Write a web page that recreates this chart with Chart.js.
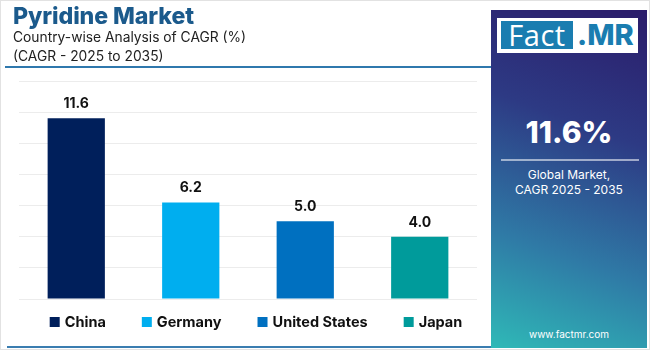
<!DOCTYPE html>
<html><head><meta charset="utf-8">
<script src="https://cdn.jsdelivr.net/npm/chart.js@4.4.1/dist/chart.umd.min.js"></script>
<style>
html,body{margin:0;padding:0;background:#fff;}
#wrap{position:relative;width:650px;height:350px;overflow:hidden;background:#fff;font-family:Inter,"Noto Sans",sans-serif;}
#frame{position:absolute;left:0;top:0;width:648px;height:348px;border:1px solid #e2e2e2;}
#title{position:absolute;left:13px;top:2px;font-size:23.2px;font-weight:800;color:#1b5a8c;letter-spacing:-0.1px;}
#sub1{position:absolute;left:13px;top:29px;font-size:13.8px;color:#222;}
#sub2{position:absolute;left:13px;top:48px;font-size:13.8px;color:#222;}
#rule1{position:absolute;left:5px;top:66px;width:487px;height:2px;background:#2f78ad;}
#rule2{position:absolute;left:7px;top:346px;width:485px;height:2px;background:#3a7db0;}
#chartbox{position:absolute;left:0;top:0;width:490px;height:350px;}
#panel{position:absolute;left:491px;top:10px;width:156px;height:338px;background:linear-gradient(200deg,#2b1c6a 0%,#2d3a84 35%,#2f7aa6 70%,#2fb9b7 100%);}
#logo{position:absolute;left:6px;top:8px;width:141px;height:35px;background:#fff;}
#fact{position:absolute;left:4px;top:3px;width:72px;height:28px;background:#1a7db0;color:#fff;font-size:29px;line-height:28px;font-family:"Open Sans",Inter,sans-serif;text-align:center;letter-spacing:0.5px;}
#mr{position:absolute;left:80px;top:1px;color:#1a7db0;font-size:29px;line-height:32px;font-weight:800;font-family:Inter,sans-serif;}
#big{position:absolute;left:0;width:156px;top:104px;text-align:center;color:#fff;font-size:30px;font-weight:800;}
#sep{position:absolute;left:10px;top:149px;width:138px;height:2px;background:rgba(255,255,255,0.55);}
#g1{position:absolute;left:0;width:156px;top:157px;text-align:center;color:#fff;font-size:12px;line-height:15px;}
#www{position:absolute;left:0;width:156px;top:318px;text-align:center;color:#fff;font-size:10px;}
</style></head>
<body>
<div id="wrap">
<div id="frame"></div>
<div id="chartbox"><canvas id="c" width="490" height="350"></canvas></div>
<div id="title">Pyridine Market</div>
<div id="sub1">Country-wise Analysis of CAGR (%)</div>
<div id="sub2">(CAGR - 2025 to 2035)</div>
<div id="rule1"></div>
<div id="rule2"></div>
<div id="panel">
  <div id="logo"><div id="fact">Fact</div><div id="mr">.MR</div></div>
  <div id="big">11.6%</div>
  <div id="sep"></div>
  <div id="g1">Global Market,<br>CAGR 2025 - 2035</div>
  <div id="www">www.factmr.com</div>
</div>
</div>
<script>
const categories = ["China", "Germany", "United States", "Japan"];
const cagrValues = [11.6, 6.2, 5.0, 4.0];
const barColors = ["#001f5b", "#00aeef", "#0070c0", "#009b9b"];
const yTicks = [0, 2, 4, 6, 8, 10, 12, 14];

const valueLabels = {
  id: 'valueLabels',
  afterDatasetsDraw(chart) {
    const ctx = chart.ctx;
    const meta = chart.getDatasetMeta(0);
    ctx.save();
    ctx.font = "bold 14px Inter, 'Noto Sans', sans-serif";
    ctx.fillStyle = "#111";
    ctx.textAlign = "center";
    ctx.textBaseline = "alphabetic";
    meta.data.forEach((bar, i) => {
      ctx.fillText(cagrValues[i].toFixed(1), bar.x, bar.y - 10);
    });
    ctx.restore();
  }
};

const customLegend = {
  id: 'customLegend',
  afterDraw(chart) {
    const ctx = chart.ctx;
    ctx.save();
    ctx.font = "bold 14.5px Inter, 'Noto Sans', sans-serif";
    const box = 10, gapText = 5, gapItem = 36;
    const widths = categories.map(c => box + gapText + ctx.measureText(c).width);
    const total = widths.reduce((a, b) => a + b, 0) + gapItem * (categories.length - 1);
    let x = 256 - total / 2;
    const y = 322;
    ctx.textBaseline = "middle";
    ctx.textAlign = "left";
    categories.forEach((c, i) => {
      ctx.fillStyle = barColors[i];
      ctx.fillRect(x, y - box / 2, box, box);
      ctx.fillStyle = "#111";
      ctx.fillText(c, x + box + gapText, y + 1);
      x += widths[i] + gapItem;
    });
    ctx.restore();
  }
};

new Chart(document.getElementById('c'), {
  type: 'bar',
  data: {
    labels: categories,
    datasets: [{
      data: cagrValues,
      backgroundColor: barColors,
      borderWidth: 0,
      barPercentage: 0.5,
      categoryPercentage: 1.0
    }]
  },
  options: {
    responsive: false,
    animation: false,
    layout: { padding: { left: 19, right: 13, top: 81, bottom: 51 } },
    plugins: { legend: { display: false }, tooltip: { enabled: false } },
    scales: {
      x: {
        grid: { display: false, drawTicks: false },
        border: { display: false },
        ticks: { display: false }
      },
      y: {
        min: yTicks[0],
        max: yTicks[yTicks.length - 1],
        afterBuildTicks(scale) { scale.ticks = yTicks.map(v => ({ value: v })); },
        grid: { color: "#ececec", lineWidth: 1, drawTicks: false },
        border: { display: false },
        ticks: { display: false }
      }
    }
  },
  plugins: [valueLabels, customLegend]
});
</script>
</body></html>
